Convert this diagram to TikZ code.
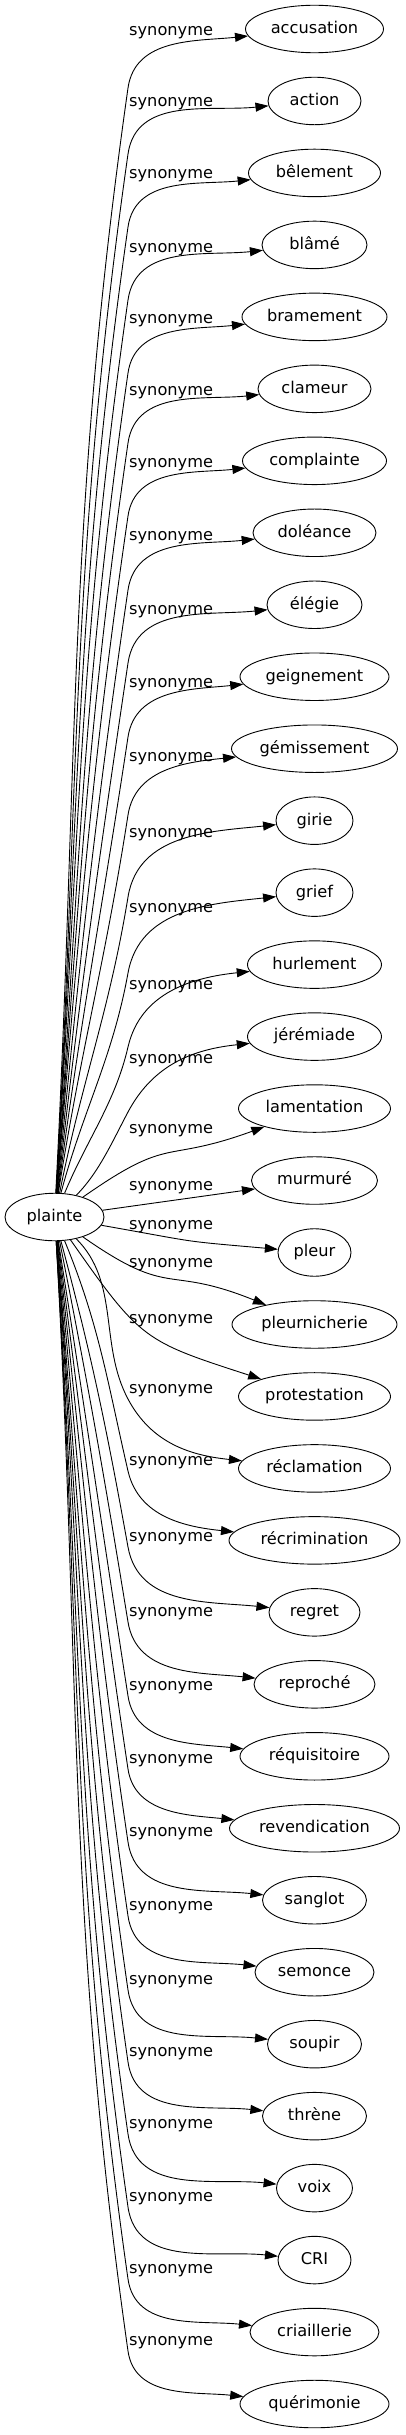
\documentclass[tikz,border=0pt]{standalone}
\usepackage{fontspec}
\usetikzlibrary{arrows.meta,shapes.geometric}
\newfontfamily\dejavu{DejaVu Sans}
\newcommand{\wordfont}{\dejavu\fontsize{16.2pt}{19pt}\selectfont}
\begin{document}
\begin{tikzpicture}
[x=1pt,y=1pt,
  wordnode/.style={shape=ellipse,draw,line width=0.9pt,inner xsep=0pt,inner ysep=0pt,%
    minimum height=47.5pt,text height=12.6pt,text depth=3.8pt,font=\wordfont},
  rellabel/.style={anchor=base west,inner sep=0pt,font=\wordfont},
  relline/.style={-{Triangle[length=13pt,width=9pt]},line width=0.9pt}]
\useasboundingbox (0,0) rectangle (405,-2435);
%% central word
\node (plainte) at (54.5,-1217) [wordnode,minimum width=99pt] {plainte};
%% synonyms above, edges bend at (b)
\foreach \i/\word/\ellw/\ly/\by in {0/accusation/138/31/88, 1/action/93/102/154,
    2/bêlement/132/174/227, 3/blâmé/105/248/300, 4/bramement/145/319/373,
    5/clameur/113/391/443, 6/complainte/144/463/516, 7/doléance/123/536/590,
    8/élégie/95/610/663, 9/geignement/149/683/737, 10/gémissement/166/757/815,
    11/girie/77/833/897, 12/grief/77/908/973, 13/hurlement/134/985/1047,
    14/jérémiade/134/1059/1112} {
  \pgfmathsetmacro\outangle{90-45/(15-\i)}
  \pgfmathsetmacro\bendangle{82-20/((15-\i)*(15-\i))}
  \pgfmathsetmacro\backangle{\bendangle+180}
  \pgfmathsetmacro\armlong{0.39*(1194-\by)}
  \pgfmathsetmacro\armshort{0.39*veclen(314.5-\ellw/2-128,\by-29-71.97*\i)}
  \node (n\i) at (314.5,-29-71.97*\i) [wordnode,minimum width=\ellw pt] {\word};
  \node (l\i) at (129,-\ly-4.4) [rellabel] {synonyme};
  \coordinate (b\i) at (128,-\by);
  \draw[relline] (plainte.\outangle) .. controls +(\outangle:\armlong) and +(\backangle:\armlong) .. (b\i)
    .. controls +(\bendangle:\armshort) and +(186:\armshort) .. (n\i.186);
}
%% synonyms in the middle, direct edges
\foreach \i/\word/\ellw/\ly/\outangle/\inangle in {15/lamentation/152/1129/35/200,
    16/murmuré/126/1186/8/188, 17/pleur/73/1225/-10/175,
    18/pleurnicherie/165/1263/-35/158, 19/protestation/152/1319/-55/162} {
  \pgfmathsetmacro\armshort{0.39*veclen(260,1217-29-71.97*\i)}
  \node (n\i) at (314.5,-29-71.97*\i) [wordnode,minimum width=\ellw pt] {\word};
  \node (l\i) at (129,-\ly-4.4) [rellabel] {synonyme};
  \draw[relline] (plainte.\outangle) .. controls +(\outangle:\armshort) and +(\inangle:\armshort) .. (n\i.\inangle);
}
%% synonyms below, edges bend at (b)
\foreach \i/\word/\ellw/\ly in {20/réclamation/152/1389, 21/récrimination/171/1461,
    22/regret/91/1537, 23/reproché/121/1612, 24/réquisitoire/149/1686,
    25/revendication/170/1759, 26/sanglot/104/1832, 27/semonce/119/1906,
    28/soupir/94/1980, 29/thrène/104/2052, 30/voix/76/2124, 31/CRI/73/2197,
    32/criaillerie/129/2269, 33/quérimonie/149/2341} {
  \pgfmathsetmacro\outangle{-90+45/(\i-19)}
  \pgfmathsetmacro\bendangle{-82+20/((\i-19)*(\i-19))}
  \pgfmathsetmacro\backangle{\bendangle+180}
  \pgfmathsetmacro\armlong{0.39*(\ly+10-1240)}
  \pgfmathsetmacro\armshort{0.39*veclen(314.5-\ellw/2-128,29+71.97*\i-\ly-10)}
  \node (n\i) at (314.5,-29-71.97*\i) [wordnode,minimum width=\ellw pt] {\word};
  \node (l\i) at (129,-\ly-4.4) [rellabel] {synonyme};
  \coordinate (b\i) at (128,-\ly-10);
  \draw[relline] (plainte.\outangle) .. controls +(\outangle:\armlong) and +(\backangle:\armlong) .. (b\i)
    .. controls +(\bendangle:\armshort) and +(174:\armshort) .. (n\i.174);
}
\end{tikzpicture}
\end{document}
